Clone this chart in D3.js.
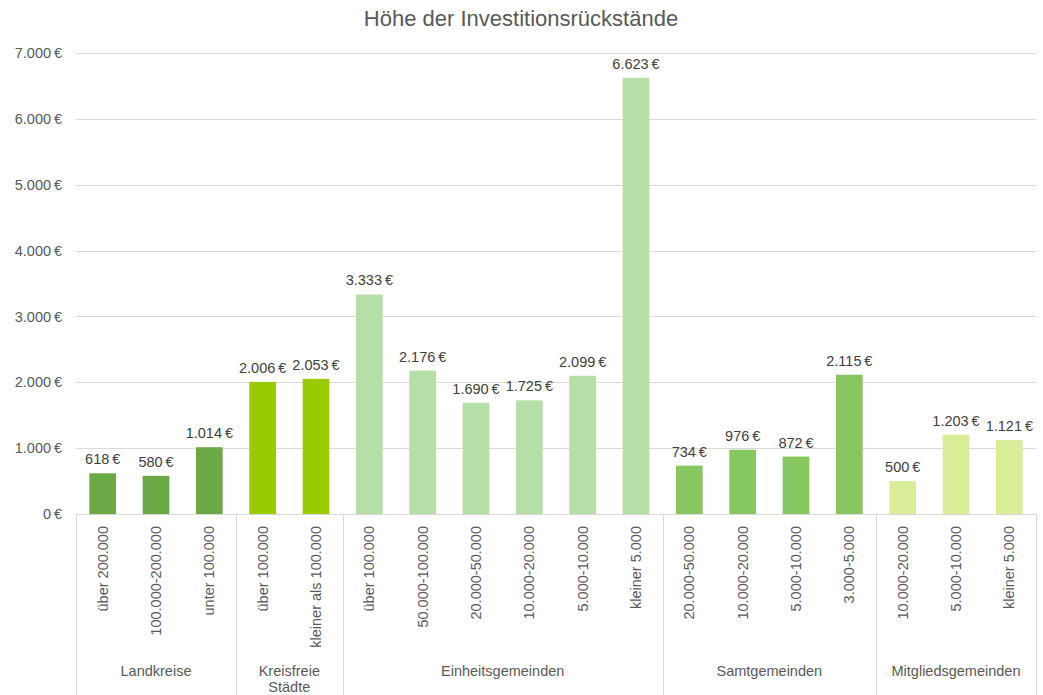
<!DOCTYPE html>
<meta charset="utf-8">
<script src="https://d3js.org/d3.v7.min.js"></script>
<style>
  body { margin: 0; background: #fff; }
  text { font-family: "Liberation Sans", Arial, sans-serif; }
</style>
<div id="chart"></div>
<script>
// data
var groups = ["Landkreise", "Kreisfreie Städte", "Einheitsgemeinden", "Samtgemeinden", "Mitgliedsgemeinden"];
var groupColors = ["#6aa946", "#99cb00", "#b5dfa6", "#86c75f", "#d9ed99"];
var categories = ["über 200.000", "100.000-200.000", "unter 100.000",
  "über 100.000", "kleiner als 100.000",
  "über 100.000", "50.000-100.000", "20.000-50.000", "10.000-20.000", "5.000-10.000", "kleiner 5.000",
  "20.000-50.000", "10.000-20.000", "5.000-10.000", "3.000-5.000",
  "10.000-20.000", "5.000-10.000", "kleiner 5.000"];
var groupIndex = [0, 0, 0, 1, 1, 2, 2, 2, 2, 2, 2, 3, 3, 3, 3, 4, 4, 4];
var values = [618, 580, 1014, 2006, 2053, 3333, 2176, 1690, 1725, 2099, 6623, 734, 976, 872, 2115, 500, 1203, 1121];
var yTicks = [0, 1000, 2000, 3000, 4000, 5000, 6000, 7000];

var W = 1043, H = 695;
var mLeft = 76, mRight = 1036, mTop = 53, mBottom = 514;
var fs = "14.5px";

var svg = d3.select("#chart").append("svg")
  .attr("width", W).attr("height", H);

var fmt = function(v) { return d3.format(",")(v).replace(/,/g, ".") + "\u2009€"; };

var x = d3.scaleBand()
  .domain(d3.range(values.length))
  .range([mLeft, mRight])
  .paddingInner(0.5).paddingOuter(0.25);

var y = d3.scaleLinear().domain([0, 7000]).range([mBottom, mTop]);

// title
svg.append("text")
  .attr("x", 521).attr("y", 26)
  .attr("text-anchor", "middle")
  .style("font-size", "22px")
  .style("fill", "#595959")
  .text("Höhe der Investitionsrückstände");

// gridlines + y labels
svg.append("g").selectAll("line")
  .data(yTicks).enter().append("line")
  .attr("x1", mLeft).attr("x2", mRight)
  .attr("y1", function(d) { return Math.round(y(d)) + 0.5; })
  .attr("y2", function(d) { return Math.round(y(d)) + 0.5; })
  .attr("stroke", "#d9d9d9");

svg.append("g").selectAll("text")
  .data(yTicks).enter().append("text")
  .attr("x", 62)
  .attr("y", function(d) { return y(d); })
  .attr("dy", "0.35em")
  .attr("text-anchor", "end")
  .style("font-size", fs)
  .style("fill", "#595959")
  .text(fmt);

// bars
svg.append("g").selectAll("rect")
  .data(values).enter().append("rect")
  .attr("x", function(d, i) { return x(i); })
  .attr("width", x.bandwidth())
  .attr("y", function(d) { return y(d); })
  .attr("height", function(d) { return y(0) - y(d); })
  .attr("fill", function(d, i) { return groupColors[groupIndex[i]]; });

// value labels
svg.append("g").selectAll("text")
  .data(values).enter().append("text")
  .attr("x", function(d, i) { return x(i) + x.bandwidth() / 2; })
  .attr("y", function(d) { return y(d) - 9; })
  .attr("text-anchor", "middle")
  .style("font-size", fs)
  .style("fill", "#404040")
  .text(fmt);

// category labels (rotated)
svg.append("g").selectAll("text")
  .data(categories).enter().append("text")
  .attr("transform", function(d, i) {
    return "translate(" + (x(i) + x.bandwidth() / 2) + "," + 526 + ") rotate(-90)";
  })
  .attr("dy", "0.35em")
  .attr("text-anchor", "end")
  .style("font-size", fs)
  .style("fill", "#595959")
  .text(function(d) { return d; });

// group boxes
var bounds = [0];
groups.forEach(function(g, gi) {
  var n = groupIndex.filter(function(k) { return k === gi; }).length;
  bounds.push(bounds[bounds.length - 1] + n);
});
var bx = function(k) { return mLeft + k * (mRight - mLeft) / values.length; };

svg.append("line")
  .attr("x1", mLeft).attr("x2", mRight)
  .attr("y1", mBottom + 0.5).attr("y2", mBottom + 0.5)
  .attr("stroke", "#d9d9d9");

svg.append("g").selectAll("line")
  .data(bounds).enter().append("line")
  .attr("x1", function(k) { return Math.round(bx(k)) + 0.5; })
  .attr("x2", function(k) { return Math.round(bx(k)) + 0.5; })
  .attr("y1", mBottom).attr("y2", H)
  .attr("stroke", "#d9d9d9");

var gl = svg.append("g").selectAll("text")
  .data(groups).enter().append("text")
  .attr("x", function(g, gi) { return (bx(bounds[gi]) + bx(bounds[gi + 1])) / 2; })
  .attr("y", 676)
  .attr("text-anchor", "middle")
  .style("font-size", fs)
  .style("fill", "#595959");

gl.each(function(g) {
  var el = d3.select(this);
  var parts = g === "Kreisfreie Städte" ? ["Kreisfreie", "Städte"] : [g];
  parts.forEach(function(p, j) {
    el.append("tspan")
      .attr("x", el.attr("x"))
      .attr("dy", j === 0 ? 0 : 16)
      .text(p);
  });
});
</script>
